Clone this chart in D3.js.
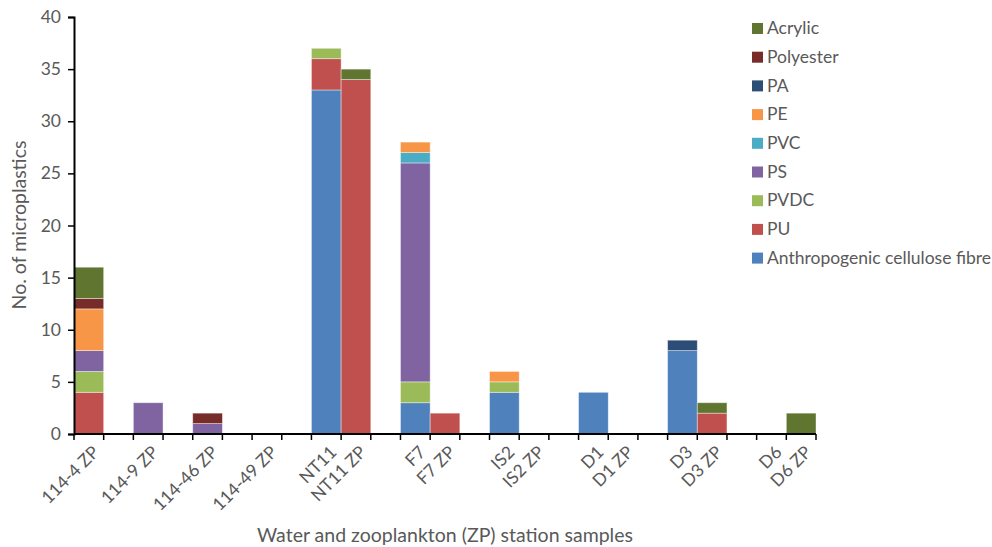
<!DOCTYPE html>
<html><head><meta charset="utf-8">
<script src="https://cdn.jsdelivr.net/npm/d3@7"></script>
<style>body{margin:0;background:#fff;} text{font-family:Lato,"Open Sans",sans-serif;fill:#595959;}</style>
</head><body><svg id="c" width="992" height="547"></svg>
<script>
const categories = ["114-4 ZP","b1","114-9 ZP","b2","114-46 ZP","b3","114-49 ZP","b4","NT11","NT11 ZP","b5","F7","F7 ZP","b6","IS2","IS2 ZP","b7","D1","D1 ZP","b8","D3","D3 ZP","b9","D6","D6 ZP"];
const seriesNames = ["Anthropogenic cellulose fibre","PU","PVDC","PS","PVC","PE","PA","Polyester","Acrylic"];
const colors = ["#4f81bd","#c0504d","#9bbb59","#8064a2","#4bacc6","#f79646","#2c4d75","#772c2a","#5f7530"];
const cellulose = [0,0,0,0,0,0,0,0,33,0,0,3,0,0,4,0,0,4,0,0,8,0,0,0,0];
const pu        = [4,0,0,0,0,0,0,0,3,34,0,0,2,0,0,0,0,0,0,0,0,2,0,0,0];
const pvdc      = [2,0,0,0,0,0,0,0,1,0,0,2,0,0,1,0,0,0,0,0,0,0,0,0,0];
const ps        = [2,0,3,0,1,0,0,0,0,0,0,21,0,0,0,0,0,0,0,0,0,0,0,0,0];
const pvc       = [0,0,0,0,0,0,0,0,0,0,0,1,0,0,0,0,0,0,0,0,0,0,0,0,0];
const pe        = [4,0,0,0,0,0,0,0,0,0,0,1,0,0,1,0,0,0,0,0,0,0,0,0,0];
const pa        = [0,0,0,0,0,0,0,0,0,0,0,0,0,0,0,0,0,0,0,0,1,0,0,0,0];
const polyester = [1,0,0,0,1,0,0,0,0,0,0,0,0,0,0,0,0,0,0,0,0,0,0,0,0];
const acrylic   = [3,0,0,0,0,0,0,0,0,1,0,0,0,0,0,0,0,0,0,0,0,1,0,0,2];
const yTicks = [0,5,10,15,20,25,30,35,40];

const values = [cellulose,pu,pvdc,ps,pvc,pe,pa,polyester,acrylic];
const table = categories.map((c,i)=>{const o={cat:c}; seriesNames.forEach((s,j)=>o[s]=values[j][i]); return o;});
const stack = d3.stack().keys(seriesNames)(table);

const svg = d3.select("#c");
const L=74, R=816, T=17, B=434;
const x = d3.scaleBand().domain(categories).range([L,R]).padding(0);
const y = d3.scaleLinear().domain([0,40]).range([B,T]);
const color = d3.scaleOrdinal().domain(seriesNames).range(colors);

const g = svg.append("g");
stack.forEach(layer=>{
  g.selectAll(null).data(layer.filter(d=>d[1]-d[0]>0)).enter().append("rect")
   .attr("x",d=>x(d.data.cat)).attr("width",x.bandwidth())
   .attr("y",d=>y(d[1])).attr("height",d=>y(d[0])-y(d[1]))
   .attr("fill",color(layer.key)).attr("stroke","#fff").attr("stroke-opacity",0.5).attr("stroke-width",0.8);
});

// y axis
const ya = svg.append("g").attr("transform",`translate(${L},0)`).call(d3.axisLeft(y).tickValues(yTicks).tickSize(6).tickPadding(7));
ya.select(".domain").attr("stroke","#000").attr("stroke-width",2);
ya.selectAll(".tick line").attr("stroke","#000").attr("stroke-width",1.5);
ya.selectAll(".tick text").style("font-size","17.5px").attr("fill","#595959").style("font-family","Lato,sans-serif");

// x axis
const xa = svg.append("g").attr("transform",`translate(0,${B})`);
xa.append("line").attr("x1",L).attr("x2",R).attr("y1",0).attr("y2",0).attr("stroke","#000").attr("stroke-width",2);
const bounds = categories.map(c=>x(c)).concat([R]);
xa.selectAll(".tk").data(bounds).enter().append("line").attr("x1",d=>d).attr("x2",d=>d).attr("y1",0).attr("y2",6).attr("stroke","#000").attr("stroke-width",1.5);
xa.selectAll(".lbl").data(categories.filter(c=>!/^b\d$/.test(c))).enter().append("text")
  .attr("transform",d=>`translate(${x(d)+x.bandwidth()/2+7},${15}) rotate(-45)`)
  .attr("text-anchor","end").attr("dy","0.35em").style("font-size","17.5px").text(d=>d);

// titles
svg.append("text").attr("transform","translate(26,225) rotate(-90)").attr("text-anchor","middle").style("font-size","19.5px").text("No. of microplastics");
svg.append("text").attr("x",445).attr("y",542).attr("text-anchor","middle").style("font-size","19.5px").text("Water and zooplankton (ZP) station samples");

// legend
const legendOrder = seriesNames.slice().reverse();
const lg = svg.append("g").selectAll("g").data(legendOrder).enter().append("g").attr("transform",(d,i)=>`translate(752,${28+i*28.7})`);
lg.append("rect").attr("x",0).attr("y",-5).attr("width",11).attr("height",11).attr("fill",d=>color(d));
lg.append("text").attr("x",15).attr("y",0).attr("dy","0.35em").style("font-size","17.5px").text(d=>d);
</script></body></html>
